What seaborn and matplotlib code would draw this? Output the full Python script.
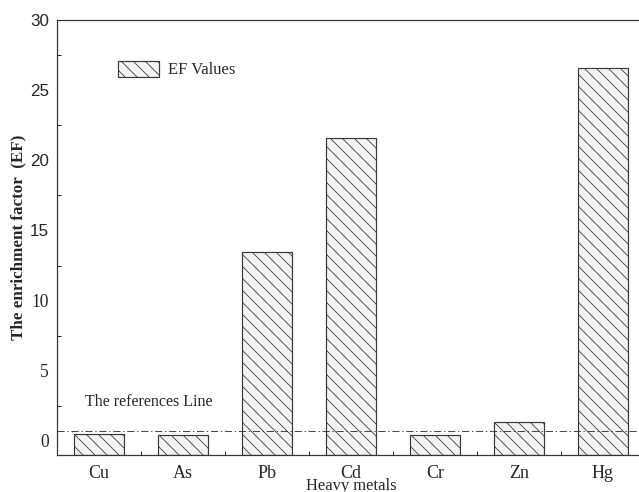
import matplotlib
matplotlib.use("Agg")
import numpy as np
import pandas as pd
import matplotlib.pyplot as plt
import seaborn as sns
from matplotlib.patches import Patch
from matplotlib.ticker import MultipleLocator

# Data
metals = ["Cu", "As", "Pb", "Cd", "Cr", "Zn", "Hg"]
ef_values = [0.5, 0.45, 13.5, 21.6, 0.43, 1.35, 26.6]
ref_line = 0.7
y_ticks = [0, 5, 10, 15, 20, 25, 30]
y_min = -1

df = pd.DataFrame({"metal": metals, "EF": ef_values})

sns.set_style("white")
plt.rcParams["font.family"] = ["Liberation Serif", "DejaVu Serif"]
plt.rcParams["hatch.linewidth"] = 0.8

# dpi 72 -> 1pt = 1px, hatch spacing matches the original
fig = plt.figure(figsize=(639 / 72, 492 / 72), dpi=72)
ax = fig.add_axes([57 / 639, 1 - 455 / 492, 588 / 639, 435 / 492])

fill = "#f3f3f3"
edge = "#3a3a3a"
sns.barplot(data=df, x="metal", y="EF", ax=ax, color=fill, width=0.6,
            edgecolor=edge, linewidth=1.2, hatch="\\\\", saturation=1)

# bars in the original start from the bottom of the axis, not from 0
for p in ax.patches:
    top = p.get_y() + p.get_height()
    p.set_y(y_min)
    p.set_height(top - y_min)

# reference line
ax.axhline(ref_line, color="#333333", linestyle=(0, (8, 3, 1.5, 3)), linewidth=0.9)
ax.text(-0.17, 2.75, "The references Line", fontsize=16, va="center", ha="left")

ax.set_xlim(-0.5, len(metals) - 0.5)
ax.set_ylim(y_min, 30)
ax.set_yticks(y_ticks)
ax.yaxis.set_minor_locator(MultipleLocator(2.5))
ax.set_xticks(range(len(metals)))
ax.set_xticks(np.arange(len(metals) - 1) + 0.5, minor=True)

ax.tick_params(axis="y", which="major", direction="out", length=5, width=1,
               labelsize=17.5, pad=3)
ax.tick_params(axis="y", which="minor", direction="in", length=4, width=1, left=True)
ax.tick_params(axis="x", which="major", direction="in", length=5, width=1,
               labelsize=18, pad=10)
ax.tick_params(axis="x", which="minor", direction="in", length=4, width=1, bottom=True)

for lab in ax.get_yticklabels():
    if float(lab.get_text().replace("\u2212", "-")) >= 15:
        lab.set_family("Liberation Sans")
        lab.set_fontsize(17)

for s in ax.spines.values():
    s.set_color("#333333")
    s.set_linewidth(1.2)

ax.set_xlabel("Heavy metals", fontsize=16.5, labelpad=-4)
ax.set_ylabel("The enrichment factor\u00a0\u00a0(EF)", fontsize=17,
              fontweight="bold", labelpad=4)

handle = Patch(facecolor=fill, edgecolor=edge, linewidth=1.2, hatch="\\\\")
ax.legend(handles=[handle], labels=["EF Values"], loc="upper left",
          bbox_to_anchor=(0.104, 0.906), frameon=False, fontsize=16.5,
          handlelength=2.5, handleheight=1.1, handletextpad=0.5,
          borderpad=0, borderaxespad=0)

fig.savefig("out.png", dpi=72)
